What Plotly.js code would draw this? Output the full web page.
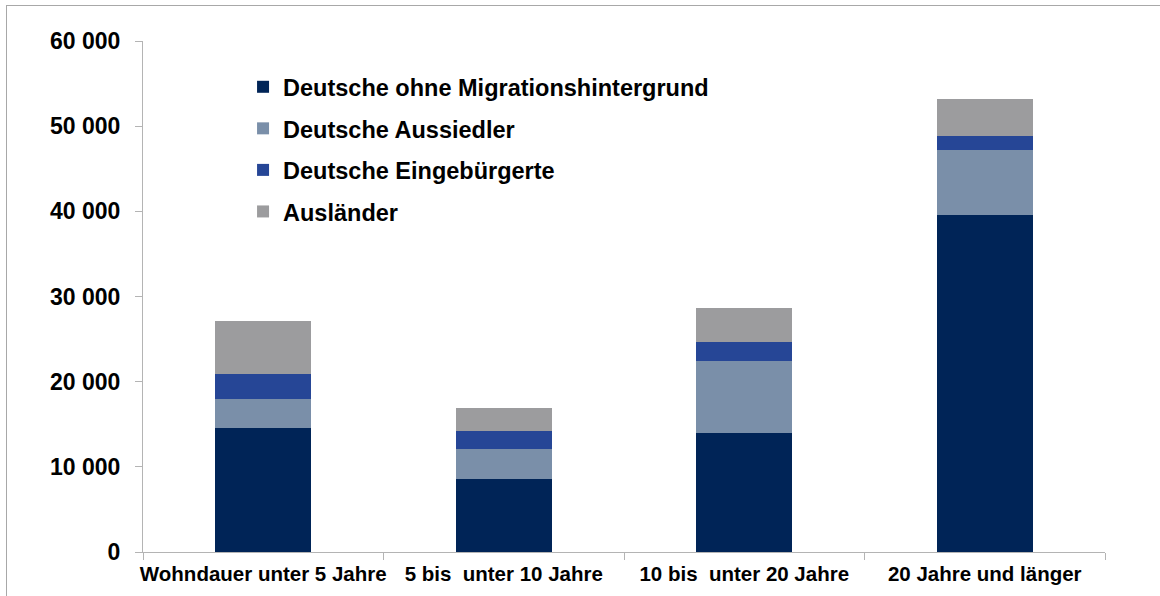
<!DOCTYPE html>
<html>
<head>
<meta charset="utf-8">
<script src="https://cdn.plot.ly/plotly-3.0.1.min.js"></script>
<style>
  html, body { margin: 0; padding: 0; background: #ffffff; }
  #frame { position: absolute; left: 6px; top: 5px; width: 1200px; height: 700px; border: 1.5px solid #a8a8a8; box-sizing: border-box; }
  #chart { position: absolute; left: 0; top: 0; width: 1160px; height: 596px; }
</style>
</head>
<body>
<div id="frame"></div>
<div id="chart"></div>
<script>
const categories = ["Wohndauer unter 5 Jahre", "5 bis  unter 10 Jahre", "10 bis  unter 20 Jahre", "20 Jahre und länger"];
const seriesNames = ["Deutsche ohne Migrationshintergrund", "Deutsche Aussiedler", "Deutsche Eingebürgerte", "Ausländer"];
const deutscheOhne = [14570, 8540, 13980, 39560];
const aussiedler = [3370, 3560, 8390, 7670];
const eingebuergerte = [2970, 2120, 2230, 1610];
const auslaender = [6270, 2660, 4030, 4340];
const colors = ["#002457", "#7a8fa9", "#264696", "#9c9c9e"];

const values = [deutscheOhne, aussiedler, eingebuergerte, auslaender];
const traces = values.map((v, i) => ({
  type: "bar",
  name: seriesNames[i],
  x: categories,
  y: v,
  legendgroup: "g" + i,
  marker: { color: colors[i], line: { width: 0 } },
  hoverinfo: "x+y+name"
}));

const layout = {
  width: 1160,
  height: 596,
  margin: { l: 143, r: 55, t: 41, b: 44 },
  barmode: "stack",
  bargap: 0.6,
  separators: ". ",
  paper_bgcolor: "rgba(0,0,0,0)",
  plot_bgcolor: "rgba(0,0,0,0)",
  font: { family: "Liberation Sans, Arial, sans-serif", color: "#000000" },
  showlegend: true,
  legend: {
    x: 0.104, y: 0.953, xanchor: "left", yanchor: "top",
    traceorder: "grouped",
    tracegroupgap: 8,
    font: { size: 23.5, family: "Liberation Sans, Arial, sans-serif", weight: "bold", color: "#000000" },
    bgcolor: "rgba(0,0,0,0)",
    itemwidth: 30
  },
  xaxis: {
    type: "category",
    showline: true, linecolor: "#b4b4b4", linewidth: 1,
    ticks: "outside", tickson: "boundaries", ticklen: 7, tickcolor: "#b4b4b4",
    showgrid: false, zeroline: false,
    tickangle: 0,
    tickfont: { size: 20.5, family: "Liberation Sans, Arial, sans-serif", weight: "bold", color: "#000000" },
    ticklabelstandoff: 3
  },
  yaxis: {
    range: [0, 60000],
    dtick: 10000, tick0: 0,
    tickformat: ",d",
    showline: true, linecolor: "#b4b4b4", linewidth: 1,
    ticks: "outside", ticklen: 7, tickcolor: "#b4b4b4",
    showgrid: false, zeroline: false,
    tickfont: { size: 23, family: "Liberation Sans, Arial, sans-serif", weight: "bold", color: "#000000" },
    ticklabelstandoff: 10
  }
};

Plotly.newPlot("chart", traces, layout, { displayModeBar: false, staticPlot: true });
</script>
</body>
</html>
